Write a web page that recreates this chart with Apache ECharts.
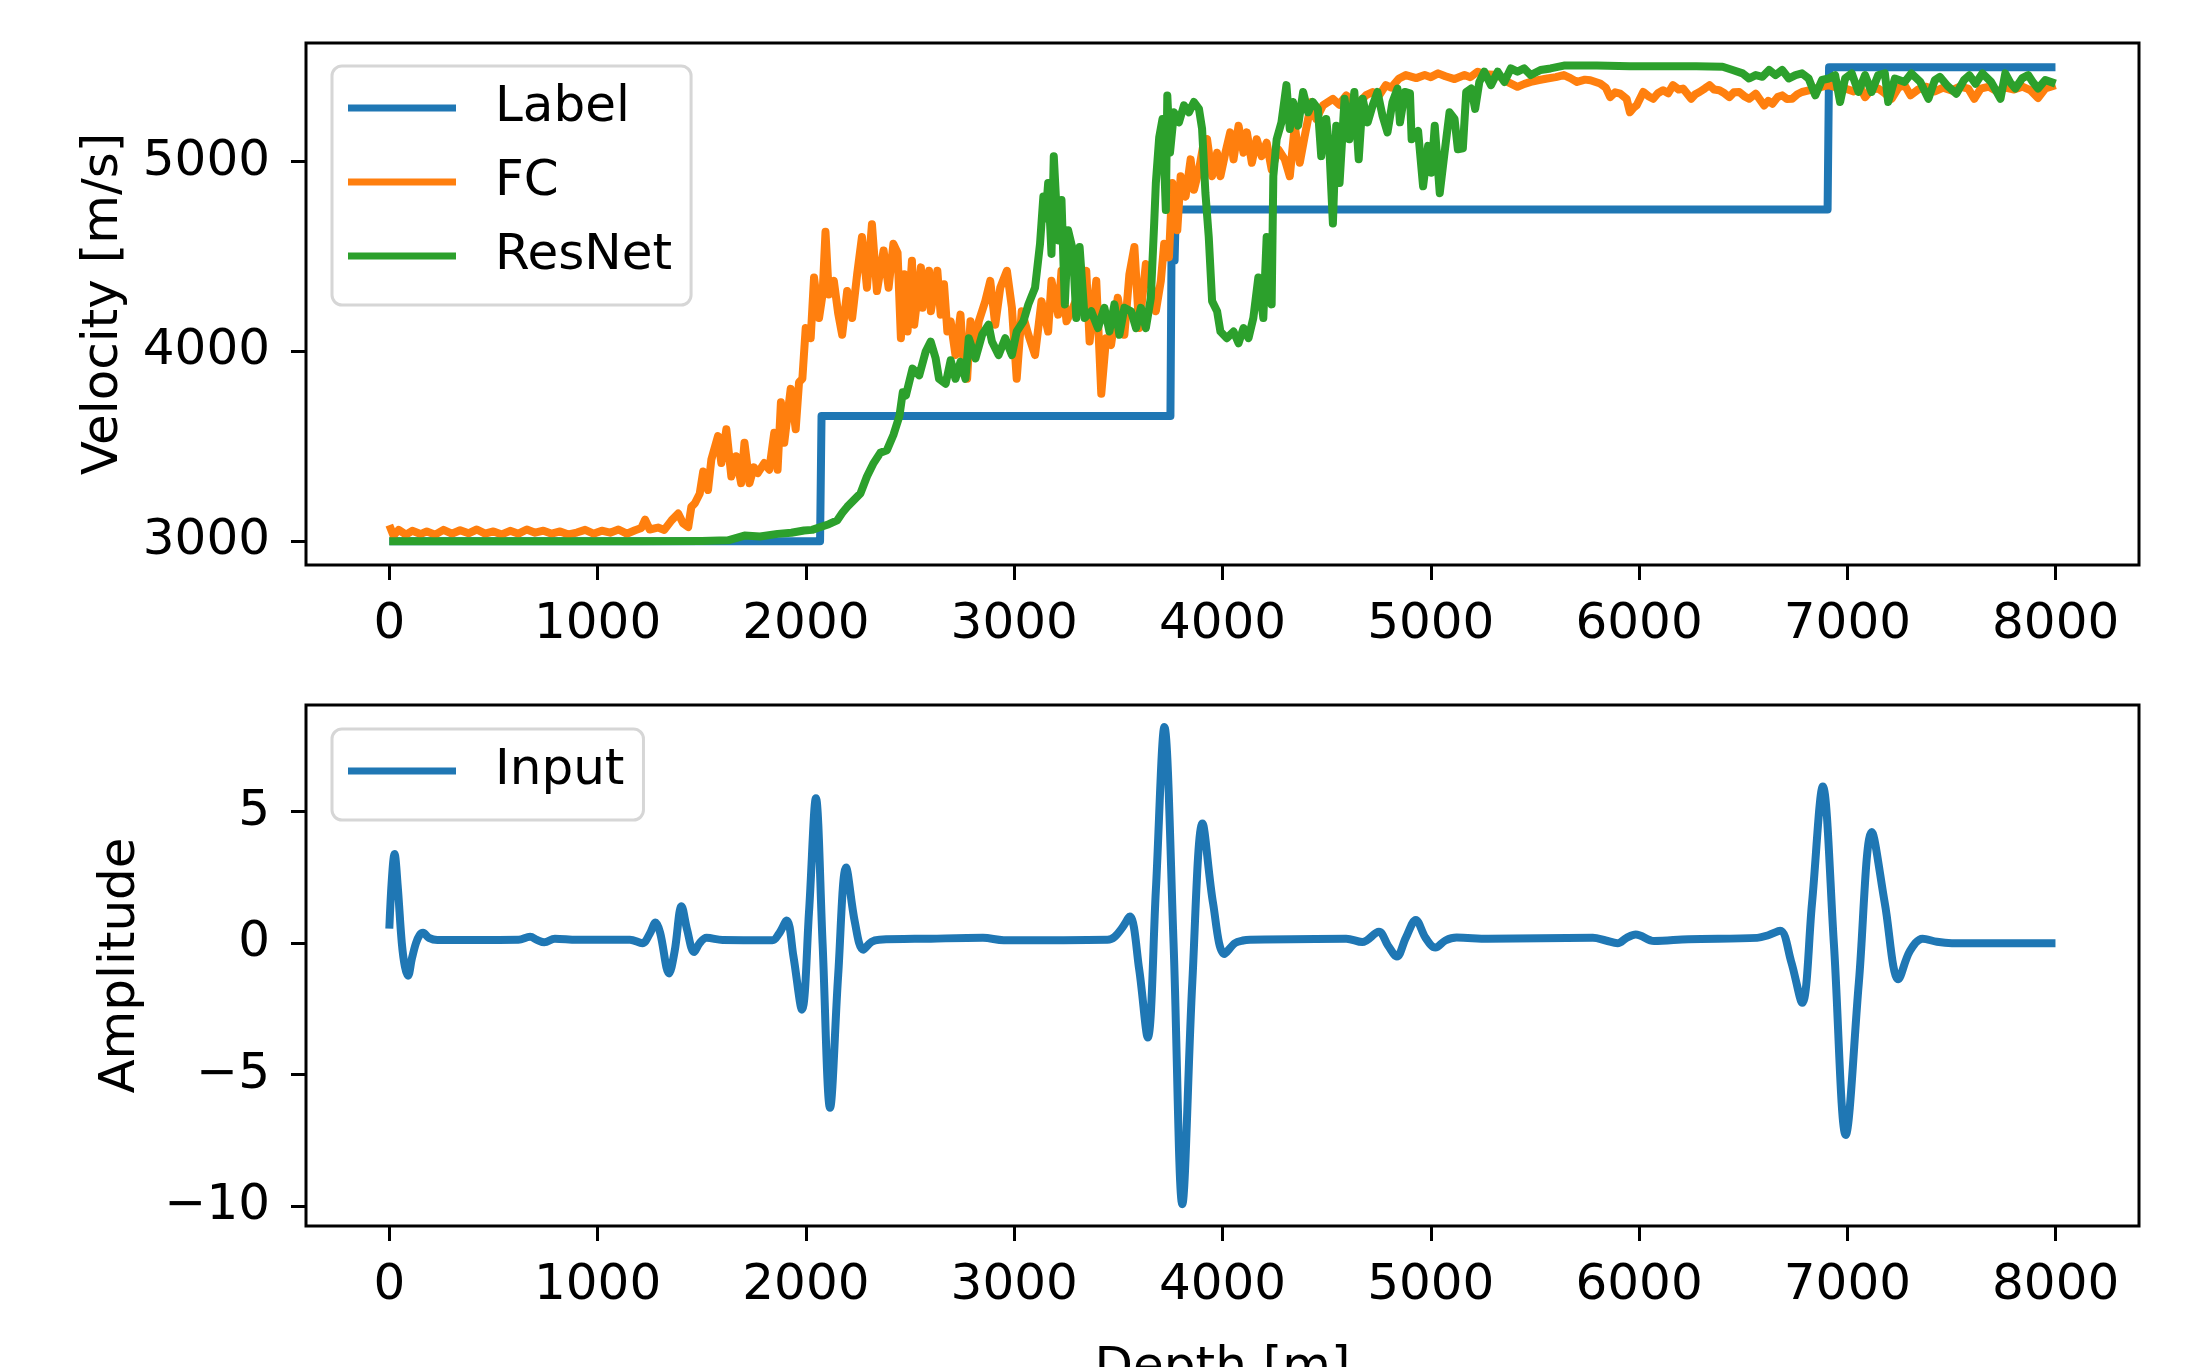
<!DOCTYPE html>
<html><head><meta charset="utf-8">
<script src="https://cdn.jsdelivr.net/npm/echarts@6/dist/echarts.min.js"></script>
<style>html,body{margin:0;padding:0;background:#fff}#c{width:2195px;height:1367px}</style>
</head><body><div id="c"></div>
<script>
const xTicks = [0,1000,2000,3000,4000,5000,6000,7000,8000];
const velTicks = [3000,4000,5000];
const ampTicks = [-10,-5,0,5];

const depthLabel = [0,2068,2075,3750,3755,3770,3776,6905,6912,7999];
const velLabel = [3000,3000,3660,3660,4480,4480,4748,4748,5497,5497];

const depthFC = [0,20,45,80,110,150,180,220,260,300,340,380,420,460,500,540,580,620,660,700,740,780,820,860,900,940,980,1020,1060,1100,1140,1180,1210,1228,1250,1290,1320,1355,1387,1410,1435,1450,1467,1490,1507,1530,1546,1578,1594,1618,1642,1665,1689,1705,1729,1750,1769,1800,1824,1848,1864,1880,1896,1927,1951,1967,1983,1999,2023,2039,2063,2080,2094,2110,2134,2155,2174,2198,2222,2246,2269,2293,2317,2341,2373,2397,2420,2440,2456,2472,2488,2509,2520,2552,2560,2591,2600,2631,2647,2663,2679,2695,2718,2742,2758,2774,2790,2814,2830,2861,2885,2909,2933,2965,2989,3012,3036,3068,3100,3131,3163,3179,3211,3227,3251,3282,3314,3346,3362,3394,3418,3441,3465,3497,3529,3553,3577,3600,3632,3656,3680,3704,3720,3743,3759,3783,3799,3823,3847,3863,3887,3910,3926,3950,3974,3990,4014,4037,4053,4077,4101,4117,4141,4164,4188,4212,4236,4268,4299,4323,4347,4371,4395,4427,4450,4482,4530,4560,4594,4620,4657,4690,4721,4750,4784,4810,4848,4880,4930,4971,5000,5035,5070,5114,5162,5190,5225,5260,5321,5368,5416,5450,5480,5520,5559,5600,5639,5670,5702,5740,5766,5813,5840,5861,5885,5909,5940,5956,5975,5988,6020,6045,6068,6090,6115,6140,6163,6190,6211,6250,6270,6290,6315,6338,6360,6385,6410,6433,6455,6481,6505,6528,6560,6600,6620,6640,6665,6687,6710,6735,6760,6782,6815,6846,6880,6910,6950,6989,7030,7060,7085,7115,7148,7180,7212,7245,7275,7303,7340,7380,7420,7460,7500,7540,7580,7609,7640,7680,7720,7760,7800,7840,7880,7915,7950,7999];
const velFC = [3085,3030,3060,3035,3055,3038,3052,3035,3060,3040,3058,3042,3062,3040,3052,3036,3055,3040,3062,3045,3056,3040,3052,3036,3046,3060,3040,3056,3045,3062,3040,3058,3070,3114,3062,3072,3060,3110,3146,3095,3075,3181,3200,3250,3368,3270,3430,3554,3412,3590,3341,3448,3306,3519,3306,3390,3359,3412,3377,3572,3377,3732,3519,3803,3590,3838,3856,4123,4070,4390,4176,4300,4630,4300,4372,4200,4088,4318,4176,4407,4603,4336,4670,4318,4532,4336,4567,4520,4070,4407,4105,4478,4141,4443,4230,4425,4212,4425,4194,4354,4105,4159,3981,4194,3928,3856,4159,4034,4159,4265,4372,4141,4336,4425,4230,3856,4212,4088,3981,4265,4105,4372,4194,4425,4159,4230,4318,4425,4052,4372,3777,4070,4034,4283,4088,4407,4550,4123,4461,4354,4212,4372,4567,4496,4887,4638,4923,4816,5012,4852,4958,5100,5118,4923,5047,4923,5047,5154,5012,5189,5047,5154,4994,5118,5029,5100,4958,5065,5012,4923,5189,4994,5136,5314,5225,5296,5331,5300,5349,5320,5314,5350,5367,5345,5403,5390,5438,5456,5440,5456,5445,5465,5450,5435,5456,5445,5474,5460,5456,5420,5394,5410,5420,5430,5438,5445,5456,5440,5420,5432,5429,5412,5390,5340,5365,5358,5331,5260,5285,5296,5367,5345,5331,5360,5376,5360,5403,5380,5385,5331,5355,5367,5385,5403,5380,5376,5360,5340,5365,5367,5345,5331,5358,5296,5320,5305,5340,5349,5330,5331,5355,5367,5375,5385,5395,5403,5390,5385,5370,5395,5340,5380,5385,5360,5331,5390,5403,5349,5380,5395,5370,5390,5375,5395,5385,5331,5385,5395,5370,5390,5380,5395,5375,5335,5385,5403];

const depthRes = [0,400,800,1200,1500,1626,1705,1780,1864,1930,1991,2030,2070,2110,2150,2175,2198,2230,2262,2293,2325,2357,2389,2420,2449,2465,2480,2512,2544,2575,2599,2623,2639,2671,2695,2718,2742,2766,2782,2814,2846,2877,2893,2925,2957,2989,3012,3044,3068,3100,3124,3140,3150,3163,3179,3190,3211,3227,3243,3259,3282,3298,3314,3338,3370,3402,3433,3457,3481,3505,3529,3561,3585,3608,3632,3656,3672,3680,3696,3712,3728,3735,3748,3767,3791,3815,3839,3863,3887,3902,3918,3934,3950,3974,3990,4021,4053,4077,4101,4125,4148,4172,4196,4212,4236,4244,4260,4283,4307,4323,4339,4363,4387,4411,4434,4458,4474,4498,4514,4530,4546,4562,4586,4609,4633,4654,4673,4697,4721,4744,4768,4792,4816,4840,4852,4876,4900,4908,4939,4963,4987,5003,5019,5043,5066,5090,5114,5130,5154,5170,5194,5213,5233,5257,5289,5321,5353,5384,5416,5448,5480,5527,5575,5639,5797,5956,6115,6274,6401,6449,6497,6528,6560,6592,6624,6655,6687,6719,6751,6782,6814,6846,6878,6910,6941,6965,6989,7021,7053,7085,7116,7148,7180,7196,7228,7275,7307,7350,7389,7420,7444,7480,7523,7560,7586,7615,7648,7690,7735,7758,7780,7806,7840,7868,7890,7915,7950,7999];
const velRes = [3000,3000,3000,3000,3002,3005,3030,3025,3039,3045,3057,3060,3075,3090,3110,3150,3181,3217,3252,3341,3412,3466,3480,3560,3660,3785,3768,3910,3874,3999,4052,3963,3856,3830,3954,3856,3945,3856,4070,3963,4088,4141,4052,3981,4070,3981,4105,4159,4248,4336,4567,4816,4700,4887,4514,5029,4585,4798,4248,4638,4532,4176,4550,4176,4212,4123,4230,4105,4248,4088,4230,4212,4123,4230,4123,4283,4674,4887,5127,5225,4745,5349,5047,5260,5207,5296,5260,5314,5278,5172,4834,4603,4265,4212,4105,4070,4105,4043,4123,4070,4176,4390,4176,4603,4248,4923,5118,5207,5403,5172,5314,5189,5367,5260,5314,5278,5029,5225,5047,4674,5189,4887,5331,5118,5367,5012,5331,5207,5296,5367,5243,5154,5314,5385,5207,5367,5360,5118,5162,4870,5083,4941,5189,4834,5047,5260,5225,5065,5070,5367,5385,5278,5420,5474,5403,5474,5420,5491,5474,5491,5456,5483,5491,5506,5506,5502,5502,5502,5500,5483,5465,5438,5456,5447,5483,5456,5483,5438,5456,5465,5438,5349,5430,5438,5456,5314,5438,5465,5367,5456,5367,5456,5465,5314,5438,5420,5465,5420,5331,5430,5447,5400,5358,5430,5455,5410,5465,5420,5331,5465,5420,5385,5440,5456,5420,5385,5430,5411];

const depthIn = [0,12,25,40,60,75,90,108,128,145,162,190,231,400,620,676,710,744,795,900,1155,1215,1250,1278,1300,1343,1370,1403,1430,1463,1490,1523,1600,1839,1870,1908,1940,1981,2015,2048,2080,2116,2155,2193,2235,2275,2315,2352,2600,2850,2950,3448,3482,3520,3555,3600,3641,3680,3721,3765,3807,3855,3904,3955,4009,4060,4098,4132,4594,4671,4751,4795,4837,4880,4928,4975,5022,5070,5124,5275,5778,5840,5897,5940,5984,6072,6237,6567,6620,6677,6730,6783,6830,6882,6935,6992,7055,7117,7180,7245,7300,7361,7430,7502,7999];
const ampIn = [0.55,2.4,3.39,2.2,0,-0.9,-1.24,-0.6,0,0.3,0.39,0.2,0.12,0.12,0.13,0.24,0.12,0.03,0.17,0.13,0.13,0,0.35,0.78,0.4,-1.15,-0.3,1.4,0.5,-0.34,0,0.2,0.12,0.11,0.35,0.86,-0.5,-2.53,1.2,5.51,0,-6.26,-1.2,2.87,0.8,-0.25,0.05,0.13,0.17,0.2,0.11,0.13,0.24,0.6,1.01,-1.0,-3.59,2.0,8.21,0,-9.92,-1.5,4.55,1.5,-0.41,0,0.1,0.13,0.17,0.04,0.43,-0.1,-0.51,0.2,0.88,0.2,-0.17,0.1,0.21,0.17,0.2,0.1,0,0.2,0.33,0.08,0.15,0.2,0.3,0.47,-0.7,-2.27,1.5,5.95,0,-7.29,-1.5,4.22,1.5,-1.37,-0.3,0.17,0.05,0,0];

const zip = (a, b) => a.map((v, i) => [v, b[i]]);
const FONT = 'DejaVu Sans';
const minus = v => String(v).replace('-', '\u2212');

function xAxisCfg(gi, name) {
  return {
    type: 'value', gridIndex: gi, min: -400, max: 8400,
    axisLine: { show: false, onZero: false },
    axisTick: { show: true, length: 15, lineStyle: { color: '#000', width: 3 }, customValues: xTicks },
    axisLabel: { color: '#000', fontSize: 50, fontFamily: FONT, margin: 35, customValues: xTicks, formatter: v => String(v) },
    splitLine: { show: false },
    name: name || '', nameLocation: 'middle', nameGap: 118,
    nameTextStyle: { color: '#000', fontSize: 50, fontFamily: FONT }
  };
}
function yAxisCfg(gi, min, max, ticks, name, gap) {
  return {
    type: 'value', gridIndex: gi, min: min, max: max,
    axisLine: { show: false, onZero: false },
    axisTick: { show: true, length: 15, lineStyle: { color: '#000', width: 3 }, customValues: ticks },
    axisLabel: { color: '#000', fontSize: 50, fontFamily: FONT, margin: 36, customValues: ticks, formatter: minus },
    splitLine: { show: false },
    name: name, nameLocation: 'middle', nameGap: gap,
    nameTextStyle: { color: '#000', fontSize: 50, fontFamily: FONT }
  };
}
function legendCfg(top, names) {
  return {
    orient: 'vertical', left: 332, top: top, data: names,
    icon: 'rect', itemWidth: 108, itemHeight: 7, itemGap: 14,
    padding: [12, 19, 19, 16],
    backgroundColor: 'rgba(255,255,255,0.8)', borderColor: '#d6d6d6', borderWidth: 3, borderRadius: 10,
    textStyle: { color: '#000', fontSize: 50, fontFamily: FONT, lineHeight: 52, padding: [8, 0, 0, 34] }
  };
}
function line(name, data, color, xi, yi, smooth) {
  return {
    type: 'line', name: name, data: data, xAxisIndex: xi, yAxisIndex: yi,
    symbol: 'none', smooth: smooth || false, animation: false,
    lineStyle: { color: color, width: 8, join: 'round' }, itemStyle: { color: color }
  };
}

const chart = echarts.init(document.getElementById('c'), null, { renderer: 'canvas' });
const gridBase = { left: 306, width: 1833, show: true, borderColor: '#000', borderWidth: 3, backgroundColor: 'transparent', containLabel: false, outerBoundsMode: 'none' };
chart.setOption({
  backgroundColor: '#fff',
  animation: false,
  grid: [
    Object.assign({}, gridBase, { top: 43, height: 522 }),
    Object.assign({}, gridBase, { top: 705, height: 521 })
  ],
  xAxis: [xAxisCfg(0), xAxisCfg(1, 'Depth [m]')],
  yAxis: [
    yAxisCfg(0, 2875, 5625, velTicks, 'Velocity [m/s]', 177),
    yAxisCfg(1, -10.75, 9.05, ampTicks, 'Amplitude', 160)
  ],
  legend: [legendCfg(66, ['Label', 'FC', 'ResNet']), legendCfg(729, ['Input'])],
  series: [
    line('Label', zip(depthLabel, velLabel), '#1f77b4', 0, 0),
    line('FC', zip(depthFC, velFC), '#ff7f0e', 0, 0),
    line('ResNet', zip(depthRes, velRes), '#2ca02c', 0, 0),
    line('Input', zip(depthIn, ampIn), '#1f77b4', 1, 1, 0.35)
  ]
});
</script></body></html>
